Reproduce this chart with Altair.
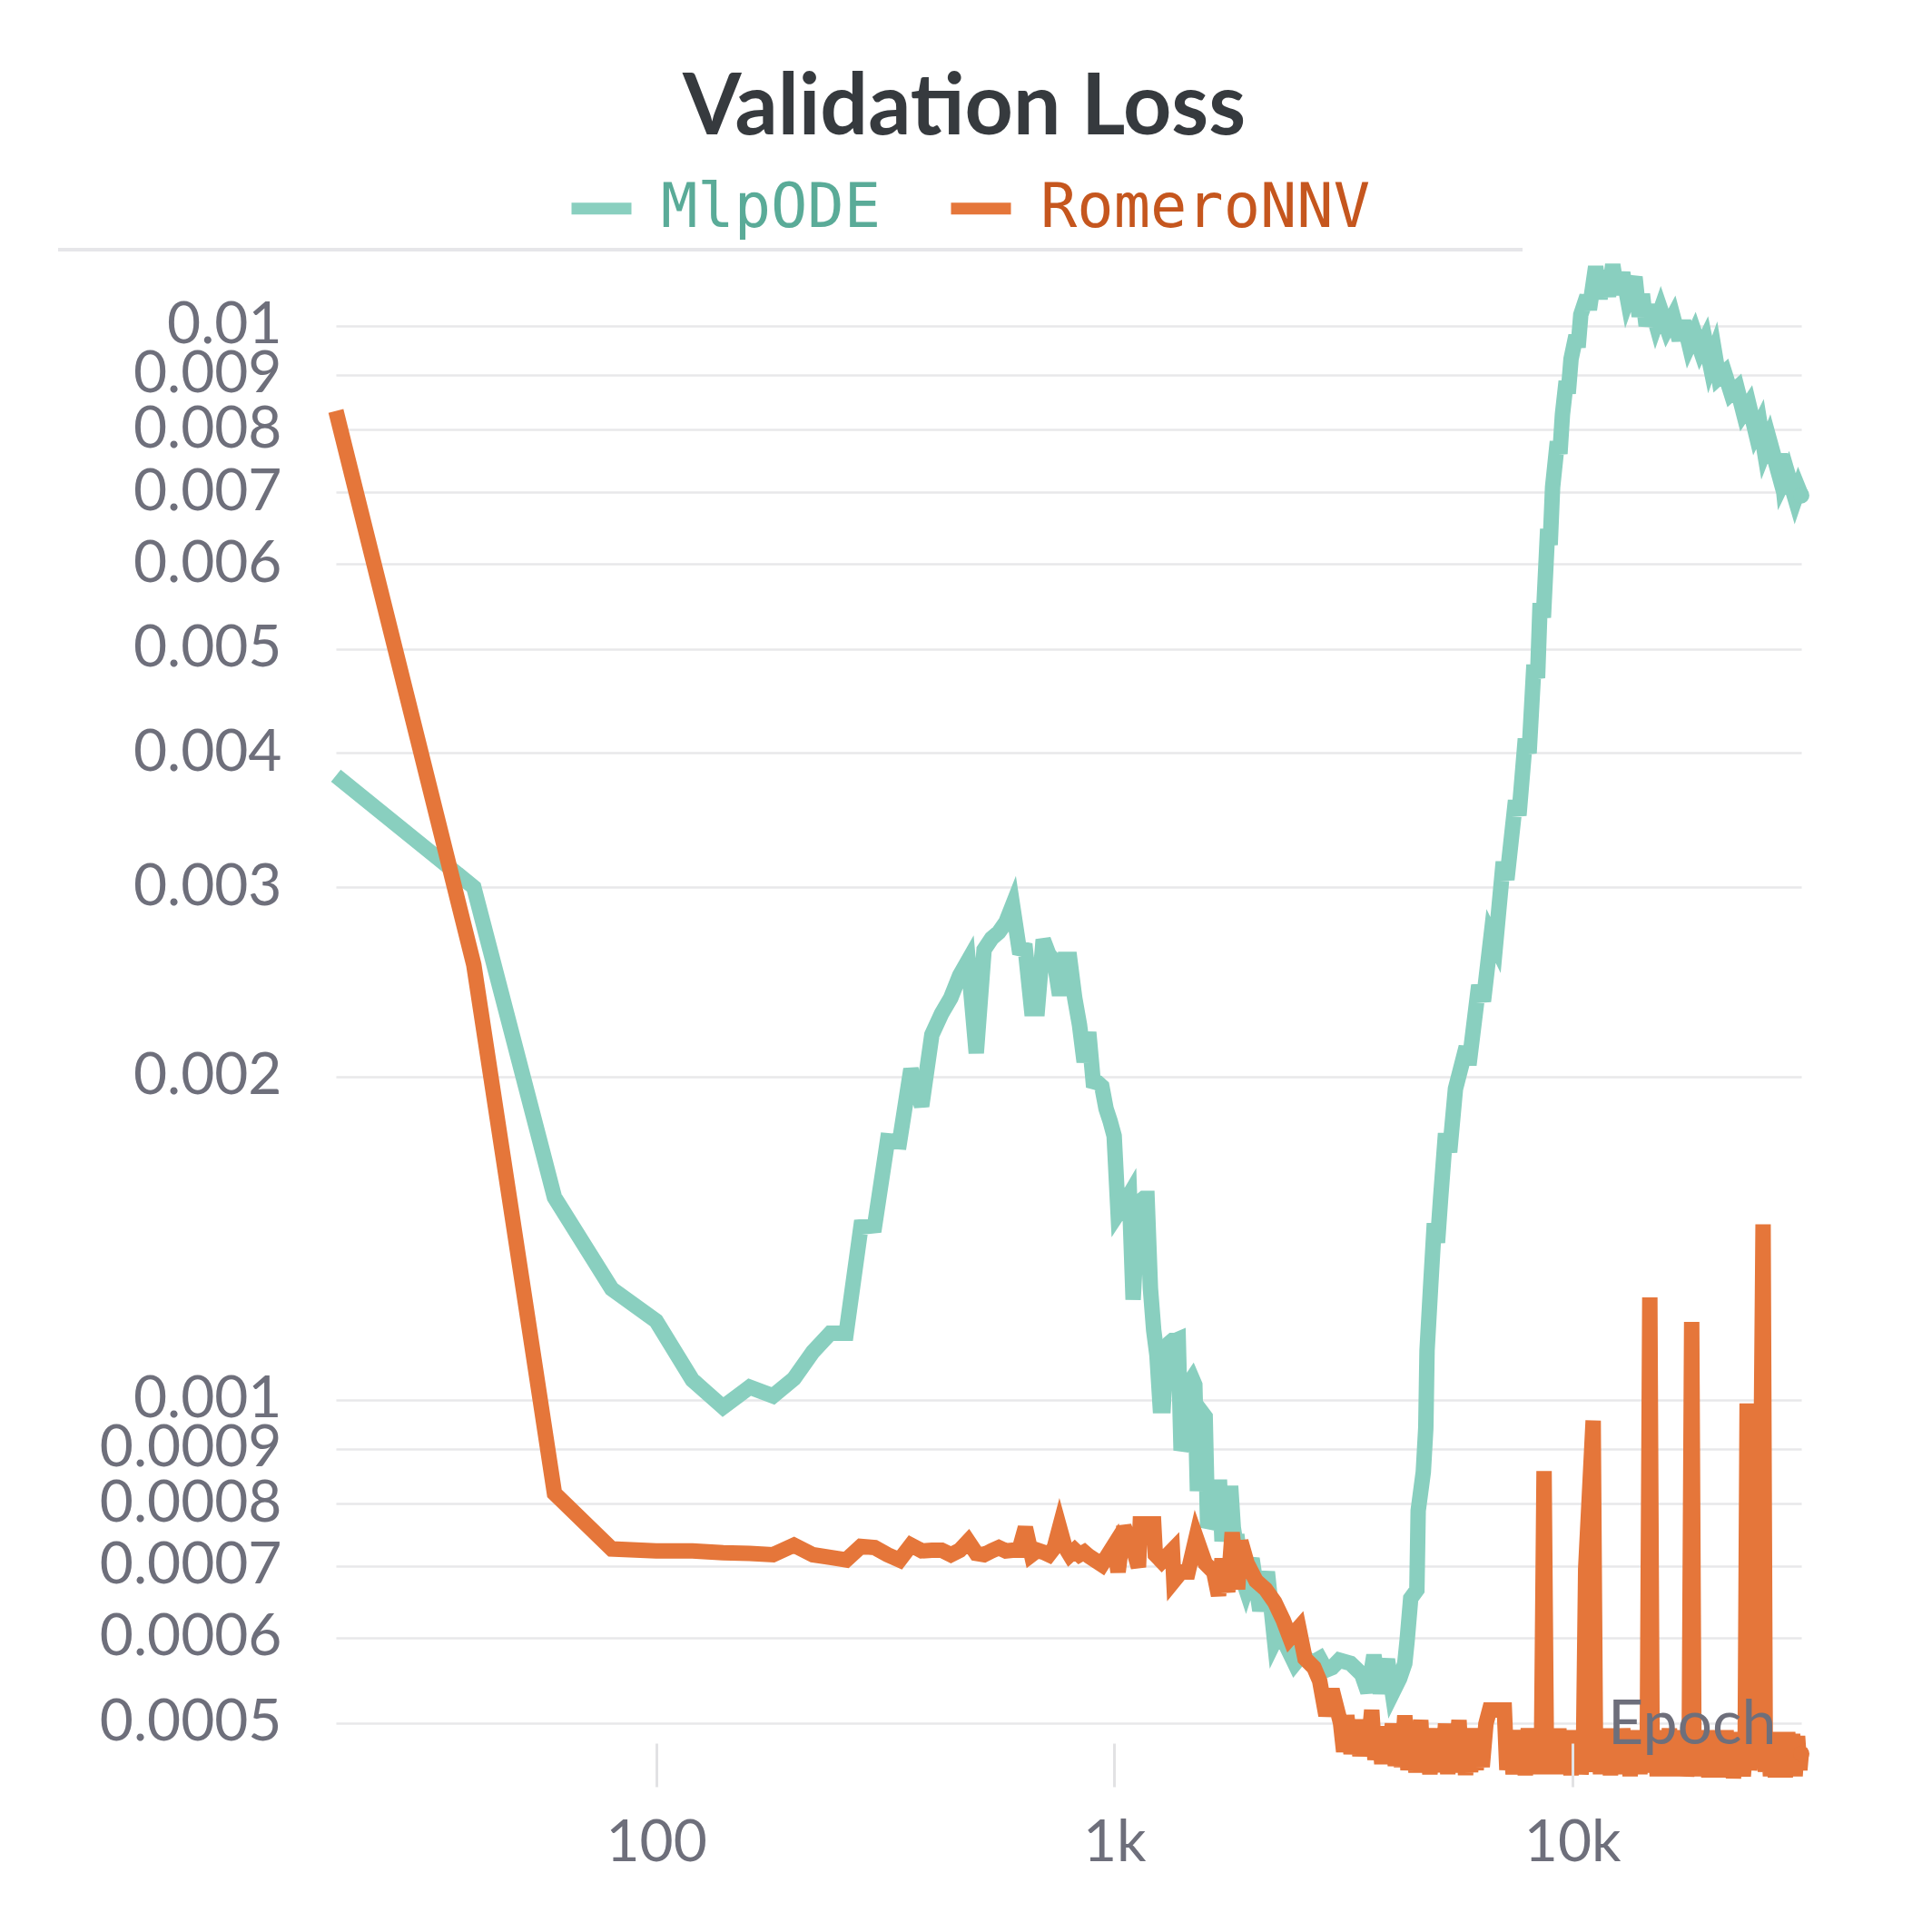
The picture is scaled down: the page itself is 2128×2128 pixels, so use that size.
import altair as alt
import pandas as pd

series_names = ["MlpODE", "RomeroNNV"]
line_colors = ["#89cfbf", "#e5763a"]
label_colors = ["#5aab98", "#c5561e"]
x_ticks = [100, 1000, 10000]
y_ticks = [0.0005, 0.0006, 0.0007, 0.0008, 0.0009, 0.001, 0.002, 0.003,
           0.004, 0.005, 0.006, 0.007, 0.008, 0.009, 0.01]

mlp_epoch = [20, 40, 60, 80, 100, 120, 140, 160, 180, 200, 220, 240, 260, 280, 300,
             320, 340, 360, 380, 400, 420, 440, 460, 480, 500, 520, 540, 560, 580, 600,
             620, 640, 660, 680, 700, 720, 740, 760, 780, 800, 820, 840, 860, 880, 900,
             920, 940, 960, 980, 1000, 1020, 1040, 1060, 1080, 1100, 1120, 1140, 1160,
             1180, 1200, 1220, 1240, 1260, 1280, 1300, 1320, 1340, 1360, 1380, 1400,
             1420, 1440, 1460, 1480, 1500, 1520, 1540, 1560, 1580, 1600, 1620, 1640,
             1660, 1680, 1700, 1720, 1740, 1760, 1780, 1800, 1820, 1840, 1860, 1880,
             1900, 1920, 1940, 1960, 1980, 2000, 2080, 2160, 2240, 2300, 2380, 2480,
             2580, 2690, 2810, 2900, 2990, 3100, 3280, 3470, 3580, 3690, 3810, 3950,
             4050, 4200, 4310, 4360, 4440, 4580, 4610, 4730, 4790, 4820, 4910, 5000,
             5080, 5160, 5290, 5400, 5560, 5870, 5950, 6250, 6400, 6650, 6800, 7070,
             7200, 7520, 7650, 7900, 8050, 8250, 8400, 8510, 8650, 8840, 8950, 9060,
             9280, 9400, 9520, 9700, 9800, 9940, 10190, 10300, 10440, 10770, 10900,
             11250, 11500, 11750, 12000, 12260, 12550, 12890, 13200, 13710, 14000,
             14230, 14500, 14850, 15230, 15600, 16100, 16600, 17130, 17500, 18000,
             18500, 19040, 19500, 20000, 20450, 20890, 21500, 22230, 22900, 23640,
             24300, 25150, 25700, 26270, 26900, 27940, 28400, 28820, 29500, 30670,
             31200, 31623]
mlp_loss = [0.00381, 0.00300, 0.001543, 0.001268, 0.001184, 0.001043, 0.000984,
            0.001027, 0.001008, 0.001046, 0.001108, 0.001153, 0.001153, 0.001448,
            0.001452, 0.001742, 0.001738, 0.002031, 0.001876, 0.002187, 0.002288,
            0.002367, 0.002483, 0.002563, 0.002102, 0.002624, 0.002688, 0.002724,
            0.002782, 0.002886, 0.002631, 0.002624, 0.002312, 0.002312, 0.002681,
            0.002597, 0.002563, 0.002380, 0.002570, 0.002570, 0.002367, 0.002234,
            0.002063, 0.002198, 0.001978, 0.001973, 0.001957, 0.001866, 0.001817,
            0.001760, 0.001491, 0.001510, 0.001530, 0.001551, 0.001239, 0.001433,
            0.001530, 0.001539, 0.001539, 0.001269, 0.001160, 0.001100, 0.000987,
            0.000987, 0.001114, 0.001129, 0.001135, 0.001135, 0.001138, 0.000897,
            0.000914, 0.001016, 0.001037, 0.001046, 0.001032, 0.000822, 0.000938,
            0.000971, 0.000964, 0.000760, 0.000769, 0.000822, 0.000829, 0.000829,
            0.000829, 0.000738, 0.000780, 0.000812, 0.000818, 0.000818, 0.000760,
            0.000738, 0.000738, 0.000711, 0.000693, 0.000675, 0.000666, 0.000675,
            0.000702, 0.000711, 0.000636, 0.000691, 0.000596, 0.000610, 0.000589,
            0.000568, 0.000580, 0.000568, 0.000574, 0.000560, 0.000563, 0.000572,
            0.000568, 0.000555, 0.000534, 0.000578, 0.000533, 0.000573, 0.000533,
            0.000550, 0.000568, 0.000596, 0.000653, 0.000665, 0.000788, 0.000856,
            0.000941, 0.001111, 0.001279, 0.001459, 0.001400, 0.001539, 0.001770,
            0.001700, 0.001947, 0.002130, 0.002050, 0.002431, 0.002350, 0.002702,
            0.002650, 0.003168, 0.003050, 0.003614, 0.003500, 0.004124, 0.004000,
            0.004834, 0.004700, 0.005516, 0.005350, 0.006466, 0.006250, 0.007073,
            0.007801, 0.007600, 0.008267, 0.008878, 0.008650, 0.009311, 0.009790,
            0.009550, 0.010240, 0.010655, 0.010350, 0.011350, 0.010600, 0.011250,
            0.010650, 0.011400, 0.010700, 0.011200, 0.010600, 0.011100, 0.010200,
            0.010700, 0.010000, 0.010450, 0.010050, 0.010350, 0.009950, 0.010200,
            0.009700, 0.010100, 0.009600, 0.009850, 0.009500, 0.009700, 0.009200,
            0.009450, 0.008950, 0.009050, 0.008650, 0.008750, 0.008300, 0.008450,
            0.007950, 0.008100, 0.007650, 0.007850, 0.007400, 0.007600, 0.007150,
            0.007300, 0.006900, 0.007050, 0.006950]

rom_epoch = [20, 40, 60, 80, 100, 120, 140, 160, 180, 200, 220, 240, 260, 280, 300,
             320, 340, 360, 380, 400, 420, 440, 460, 480, 500, 520, 540, 560, 580, 600,
             620, 640, 660, 680, 700, 720, 740, 760, 780, 800, 820, 840, 860, 880, 940,
             1000, 1020, 1050, 1110, 1130, 1140, 1220, 1230, 1270, 1340, 1350, 1400,
             1450, 1510, 1580, 1650, 1690, 1720, 1770, 1810, 1860, 1890, 1950, 2040,
             2140, 2240, 2340, 2420, 2530, 2610, 2730, 2810, 2900, 2990,
             3120, 3170, 3220, 3290, 3370, 3440, 3510, 3580, 3650, 3710,
             3780, 3840, 3900, 3970, 4050, 4110, 4180, 4240, 4310, 4380,
             4450, 4560, 4670, 4730, 4790, 4890, 5000, 5060, 5130, 5210,
             5290, 5350, 5420, 5540, 5660, 5730, 5800, 5850, 5910, 6000,
             6090, 6170, 6250, 6360, 6480, 6600, 7110, 7200, 7310, 7430,
             7540, 7660, 7780, 7900, 8020, 8150, 8250, 8350, 8450, 8560,
             8680, 8790, 8900, 9010, 9120, 9230, 9350, 9460, 9580, 9700,
             9820, 9940, 10070, 10190, 10320, 10450, 10580, 10700, 11110, 11250,
             11390, 11530, 11680, 11820, 11970, 12120, 12270, 12420, 12580, 12730,
             12890, 13050, 13210, 13380, 13540, 13710, 13880, 14050, 14230, 14400,
             14580, 14770, 14950, 15140, 15330, 15520, 15710, 15910, 16100, 16300,
             16510, 16710, 16920, 17130, 17350, 17560, 17780, 18000, 18230, 18450,
             18680, 18910, 19150, 19390, 19630, 19870, 20120, 20370, 20620, 20880,
             21140, 21400, 21670, 21940, 22210, 22490, 22770, 23050, 23340, 23630,
             23850, 24090, 24400, 24900, 25500, 26100, 26400, 26760, 27090, 27430,
             27770, 28120, 28470, 28820, 29180, 29540, 29910, 30280, 30660, 31040,
             31400, 31623]
rom_loss = [0.00833, 0.00254, 0.000818, 0.000726, 0.000723, 0.000723, 0.000720,
            0.000719, 0.000717, 0.000732, 0.000717, 0.000713, 0.000709, 0.000730,
            0.000728, 0.000717, 0.000709, 0.000732, 0.000723, 0.000724, 0.000724,
            0.000717, 0.000724, 0.000738, 0.000719, 0.000717, 0.000723, 0.000728,
            0.000723, 0.000724, 0.000724, 0.000760, 0.000717, 0.000724, 0.000721,
            0.000717, 0.000728, 0.000760, 0.000730, 0.000717, 0.000724, 0.000717,
            0.000721, 0.000715, 0.000702, 0.000732, 0.000691, 0.000762, 0.000717,
            0.000698, 0.000766, 0.000766, 0.000717, 0.000707, 0.000724, 0.000678,
            0.000691, 0.000691, 0.000744, 0.000704, 0.000691, 0.000657, 0.000711,
            0.000662, 0.000752, 0.000666, 0.000738, 0.000704, 0.000678, 0.000666,
            0.000648, 0.000623, 0.000600, 0.000613, 0.000574, 0.000563, 0.000547,
            0.000508, 0.000537,
            0.000500, 0.000470, 0.000508, 0.000468, 0.000503, 0.000466, 0.000498, 0.000472, 0.000514, 0.000462,
            0.000495, 0.000458, 0.000496, 0.000460, 0.000499, 0.000456, 0.000494, 0.000455, 0.000508, 0.000452,
            0.000490, 0.000450, 0.000503, 0.000452, 0.000492, 0.000448, 0.000494, 0.000450, 0.000488, 0.000452,
            0.000499, 0.000448, 0.000490, 0.000450, 0.000503, 0.000455, 0.000492, 0.000447, 0.000490, 0.000450,
            0.000494, 0.000452, 0.000490, 0.000455, 0.000499, 0.000514, 0.000514, 0.000452, 0.000490, 0.000448,
            0.000492, 0.000452, 0.000490, 0.000447, 0.000494, 0.000452, 0.000490, 0.000448, 0.000488, 0.000452,
            0.000858, 0.000450, 0.000492, 0.000448, 0.000490, 0.000450, 0.000494, 0.000448, 0.000490, 0.000452,
            0.000492, 0.000447, 0.000490, 0.000450, 0.000492, 0.000448, 0.000470, 0.000696, 0.000956, 0.000450,
            0.000492, 0.000448, 0.000490, 0.000452, 0.000494, 0.000447, 0.000490, 0.000450, 0.000492, 0.000448,
            0.000494, 0.000450, 0.000490, 0.000446, 0.000492, 0.000450, 0.000490, 0.000448, 0.000492, 0.000450,
            0.000470, 0.001245, 0.000450, 0.000490, 0.000446, 0.000492, 0.000448, 0.000490, 0.000450, 0.000494,
            0.000446, 0.000490, 0.000448, 0.000492, 0.000450, 0.000490, 0.000446, 0.000470, 0.001181, 0.000448,
            0.000490, 0.000446, 0.000492, 0.000448, 0.000490, 0.000445, 0.000492, 0.000448, 0.000490, 0.000445,
            0.000488, 0.000447, 0.000492, 0.000446, 0.000490, 0.000444, 0.000488, 0.000447, 0.000490, 0.000446,
            0.000470, 0.000992, 0.000452, 0.000488, 0.000458, 0.001456, 0.000450, 0.000490, 0.000446, 0.000488,
            0.000445, 0.000490, 0.000446, 0.000488, 0.000445, 0.000490, 0.000447, 0.000488, 0.000446, 0.000486,
            0.000452, 0.000468]

df = pd.concat([
    pd.DataFrame({"epoch": mlp_epoch, "loss": mlp_loss, "series": series_names[0]}),
    pd.DataFrame({"epoch": rom_epoch, "loss": rom_loss, "series": series_names[1]}),
], ignore_index=True)

end_df = pd.DataFrame({
    "epoch": [mlp_epoch[-1], rom_epoch[-1]],
    "loss": [mlp_loss[-1], rom_loss[-1]],
    "series": series_names,
})

W, H = 1614, 1685
GRAY = "#6e6f7b"

x_scale = alt.Scale(type="log", domain=[20, 31623], nice=False)
y_scale = alt.Scale(type="log", domain=[0.000436, 0.01159], nice=False)

label_color_expr = (f"datum.value === '{series_names[0]}' ? '{label_colors[0]}' : '{label_colors[1]}'")

lines = alt.Chart(df).mark_line(strokeJoin="miter", strokeCap="butt", strokeWidth=17).encode(
    x=alt.X("epoch:Q", scale=x_scale, axis=alt.Axis(
        values=x_ticks,
        labelExpr="datum.value >= 1000 ? (datum.value / 1000) + 'k' : datum.value + ''",
        grid=False, domain=False, ticks=True, tickSize=48, tickWidth=3,
        tickColor="#e2e2e4", offset=-48, labelPadding=30,
        labelFont="Lato", labelFontSize=64, labelColor=GRAY,
        labelFlush=False, labelOverlap=False,
        title="Epoch", titleFont="Lato", titleFontSize=68, titleFontWeight="normal",
        titleColor=GRAY, titleX=1586, titleY=0, titleAlign="right",
        titleAnchor="end", titleBaseline="alphabetic", zindex=1)),
    y=alt.Y("loss:Q", scale=y_scale, axis=alt.Axis(
        values=y_ticks, format=".1~g", grid=True, gridColor="#e8e8ea",
        gridWidth=2.5, domain=False, ticks=False, labelPadding=60,
        labelFont="Lato", labelFontSize=64, labelColor=GRAY, title=None,
        labelOverlap=False, labelLimit=500, labelFlush=False)),
    color=alt.Color("series:N", scale=alt.Scale(domain=series_names, range=line_colors),
                    legend=alt.Legend(
                        orient="none", legendX=253, legendY=-93, direction="horizontal",
                        title=None, symbolType="stroke", symbolSize=4356,
                        symbolStrokeWidth=13, labelFont="DejaVu Sans Mono",
                        labelFontSize=67, labelColor={"expr": label_color_expr},
                        labelLimit=1000, labelOffset=26, columnPadding=50, padding=0)),
)

ends = alt.Chart(end_df).mark_circle(opacity=1, strokeWidth=0, size=320).encode(
    x=alt.X("epoch:Q"),
    y=alt.Y("loss:Q"),
    fill=alt.Fill("series:N", scale=alt.Scale(domain=series_names, range=line_colors), legend=None),
)

sep = alt.Chart(pd.DataFrame({"k": [0]})).mark_rule(color="#e6e6e9", strokeWidth=4).encode(
    x=alt.value(-306), x2=alt.value(1307), y=alt.value(-8))

chart = alt.layer(sep, lines, ends).properties(
    width=W, height=H,
    title=alt.Title("Validation Loss", frame="group", anchor="middle", dx=-115, dy=97,
                    offset=46, baseline="alphabetic", font="Lato", fontSize=93,
                    fontWeight="bold", color="#363a3e"),
    autosize=alt.AutoSizeParams(type="none"),
    padding={"left": 362, "top": 275, "right": 120, "bottom": 140},
).configure_view(strokeWidth=0)

chart.save("out.html", embed_options={"renderer": "svg", "actions": False})
